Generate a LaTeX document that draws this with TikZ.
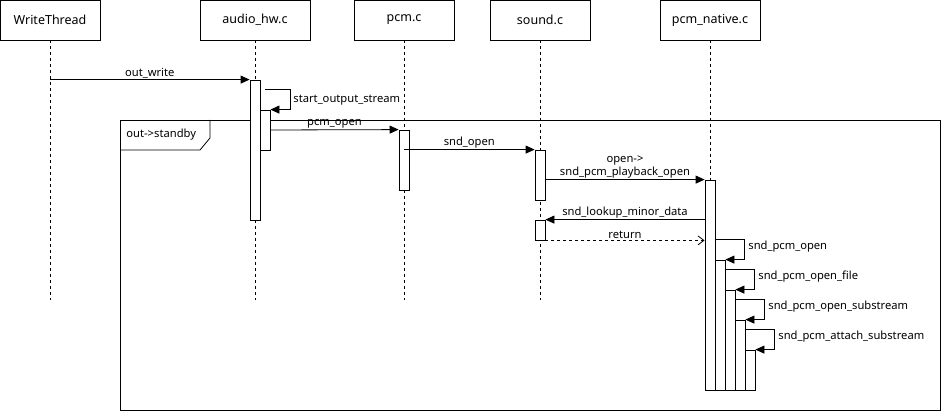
\documentclass[tikz,border=0pt]{standalone}
\usepackage{fontspec}
\setmainfont{Noto Sans}
\usetikzlibrary{arrows.meta,calc}
\begin{document}
\begin{tikzpicture}[x=1pt,y=-1pt,line width=0.8pt,
    head/.style={draw,minimum height=40pt,font=\fontsize{12.5}{14}\selectfont},
    life/.style={dash pattern=on 3pt off 3pt},
    bar/.style={draw,fill=white,minimum width=10pt,inner sep=0pt},
    msg/.style={-{Triangle[length=9pt,width=8pt]}},
    ret/.style={dashed,-{Straight Barb[length=6pt,width=9pt]}},
    lbl/.style={font=\fontsize{11.2}{13}\selectfont,inner sep=1pt}]
  \useasboundingbox (0,0) rectangle (942,411);
  \node[head,minimum width=100pt] (wt) at (50,20) {WriteThread};
  \node[head,minimum width=110pt] (hw) at (255,20) {audio\_hw.c};
  \node[head,minimum width=100pt] (pcm) at (404,20) {pcm.c};
  \node[head,minimum width=100pt] (snd) at (540,20) {sound.c};
  \node[head,minimum width=100pt] (nat) at (710,20) {pcm\_native.c};
  \draw[life] (wt.south) -- (50,300);
  \draw[life] (hw.south) -- (255,300);
  \draw[life] (pcm.south) -- (404,300);
  \draw[life] (snd.south) -- (540,300);
  \draw[life] (nat.south) -- (710,300);
  \draw (120,120) rectangle (940,410);
  \draw (120,150) -- (200,150) -- (210,138) -- (210,120);
  \node[lbl,anchor=west] (frame) at (125,135) {out->standby};
  \node[bar,minimum height=140pt] (hwA) at (255,150) {};
  \node[bar,minimum height=40pt] (hwB) at (265,130) {};
  \node[bar,minimum height=60pt] (pcmA) at (404,160) {};
  \node[bar,minimum height=50pt] (sndA) at (540,175) {};
  \node[bar,minimum height=20pt] (sndB) at (540,230) {};
  \node[bar,minimum height=210pt] (natA) at (710,285) {};
  \node[bar,minimum height=130pt] (natB) at (720,325) {};
  \node[bar,minimum height=100pt] (natC) at (730,340) {};
  \node[bar,minimum height=70pt] (natD) at (740,355) {};
  \node[bar,minimum height=40pt] (natE) at (750,370) {};
  \draw[msg] (wt |- hwA.north) -- node[lbl,above] {out\_write} (hwA.north west);
  \draw[msg] ($(hwB.north)+(0,-20)$) -- ++(25,0) |- (hwB.north east);
  \node[lbl,anchor=west] (l1) at (292,100) {start\_output\_stream};
  \draw[msg] (hwB.east) -- node[lbl,above] {pcm\_open} (pcmA.north west);
  \draw[msg] ($(pcmA.north)+(0,20)$) -- node[lbl,above] {snd\_open} (sndA.north west);
  \draw[msg] (sndA.east |- natA.north) -- node[lbl,above,align=center] {open->\\snd\_pcm\_playback\_open} (natA.north west);
  \draw[msg] (natA.west |- sndB.north) -- node[lbl,above] {snd\_lookup\_minor\_data} (sndB.north east);
  \draw[ret] (sndB.south east) -- node[lbl,above] {return} (natA.west |- sndB.south);
  \draw[msg] ($(natB.north west)+(0,-20)$) -- ++(30,0) |- (natB.north east);
  \node[lbl,anchor=west] (l2) at (747,247) {snd\_pcm\_open};
  \draw[msg] ($(natC.north west)+(0,-20)$) -- ++(30,0) |- (natC.north east);
  \node[lbl,anchor=west] (l3) at (757,277) {snd\_pcm\_open\_file};
  \draw[msg] ($(natD.north west)+(0,-20)$) -- ++(30,0) |- (natD.north east);
  \node[lbl,anchor=west] (l4) at (767,307) {snd\_pcm\_open\_substream};
  \draw[msg] ($(natE.north west)+(0,-20)$) -- ++(30,0) |- (natE.north east);
  \node[lbl,anchor=west] (l5) at (777,337) {snd\_pcm\_attach\_substream};
\end{tikzpicture}
\end{document}
